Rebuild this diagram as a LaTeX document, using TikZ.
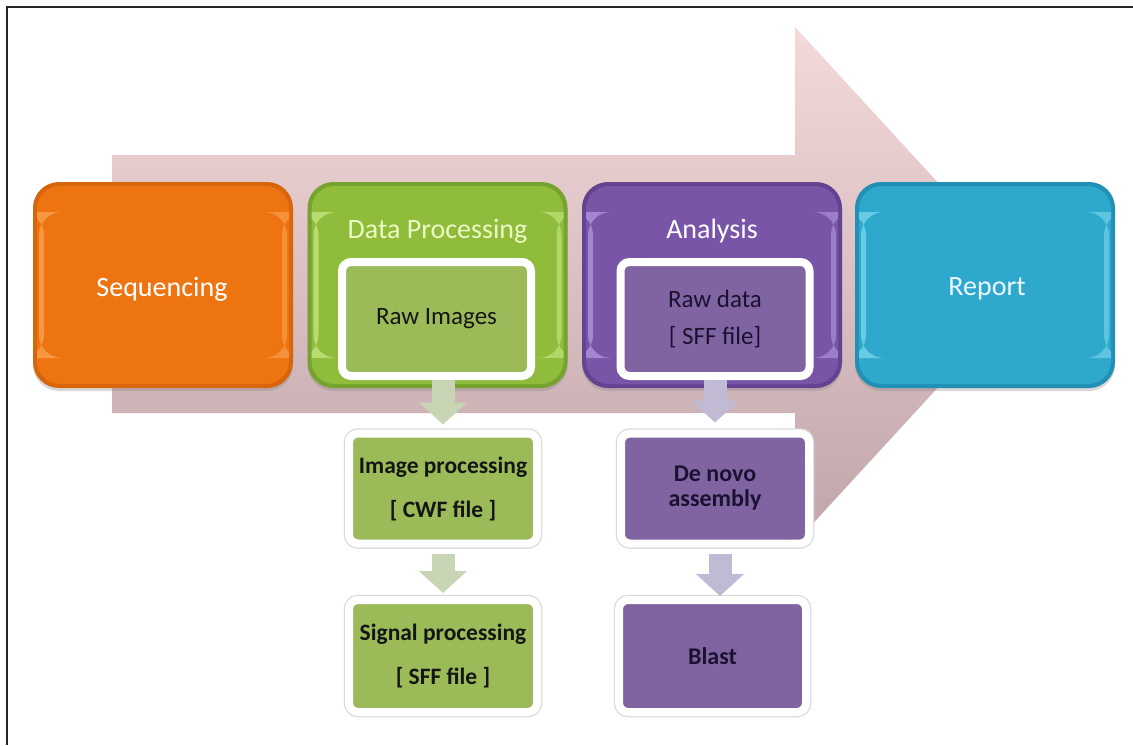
\documentclass[tikz,border=0pt]{standalone}
\usepackage{fontspec}
\setmainfont{Carlito}
\usetikzlibrary{shadows,arrows.meta}

% stage colours: face, rim, highlight
\definecolor{seqFace}{HTML}{EE7412}
\definecolor{seqRim}{HTML}{D7650C}
\definecolor{seqHi}{HTML}{FFB567}
\definecolor{dpFace}{HTML}{8FBC3B}
\definecolor{dpRim}{HTML}{76A22F}
\definecolor{dpHi}{HTML}{DDF79E}
\definecolor{anFace}{HTML}{7855A6}
\definecolor{anRim}{HTML}{644391}
\definecolor{anHi}{HTML}{CDAEF2}
\definecolor{rpFace}{HTML}{2FA8CE}
\definecolor{rpRim}{HTML}{2290B4}
\definecolor{rpHi}{HTML}{95E8FA}
% inner boxes
\definecolor{greenBox}{HTML}{9BBB59}
\definecolor{purpleBox}{HTML}{8064A2}
\definecolor{greenArrow}{HTML}{C7D5B5}
\definecolor{purpleArrow}{HTML}{C1BAD4}
\definecolor{darkText}{HTML}{151515}
\definecolor{navyText}{HTML}{1A1230}
% big background arrow
\definecolor{bandTop}{HTML}{F3D9D9}
\definecolor{bandBottom}{HTML}{C0A6AA}

\tikzset{
  stagerim/.style={rounded corners=26pt, minimum width=260pt, minimum height=206pt,
    inner sep=0pt, fill=#1,
    drop shadow={opacity=0.3, shadow xshift=0pt, shadow yshift=-3pt}},
  stageface/.style={rounded corners=23pt, minimum width=252pt, minimum height=198pt,
    inner sep=0pt, fill=#1},
  gloss/.style={path picture={
    \fill[#1, opacity=.55] ([xshift=2pt,yshift=-26pt]path picture bounding box.north west)
      rectangle ([xshift=7pt,yshift=26pt]path picture bounding box.south west);
    \fill[#1, opacity=.45] ([xshift=-7pt,yshift=-26pt]path picture bounding box.north east)
      rectangle ([xshift=-2pt,yshift=26pt]path picture bounding box.south east);
  }},
  stagetitle/.style={anchor=base, inner sep=0pt, font=\fontsize{28}{32}\selectfont, text=#1},
  innerbox/.style={draw=white, line width=8pt, fill=#1, rounded corners=9pt,
    minimum width=189pt, minimum height=114pt, inner sep=0pt, align=center},
  subbox/.style={draw=white, line width=8pt, fill=#1, rounded corners=9pt,
    minimum width=188pt, minimum height=110pt, inner sep=0pt, align=center,
    preaction={draw=black!14, line width=10.5pt},
    drop shadow={opacity=0.25, shadow xshift=1pt, shadow yshift=-3pt}},
  blockarrow/.style={draw=#1, line width=23pt,
    -{Triangle[width=47pt, length=22pt, fill=#1]}},
}

\begin{document}
\begin{tikzpicture}[x=1pt, y=-1pt]
\useasboundingbox (0,0) rectangle (1133,745);
\fill[white] (0,0) rectangle (1133,745);

% frame lines
\draw[line width=2pt, black!85] (7,745) -- (7,7) -- (1133,7);

% large process arrow behind the stages
\path[top color=bandTop, bottom color=bandBottom]
  (112,155) -- (795,155) -- (795,27) -- (1032,285) -- (795,543) -- (795,413)
  -- (112,413) -- cycle;

% stages
\node[stagerim=seqRim] (seq) at (163,285) {};
\node[stageface=seqFace, gloss=seqHi] (seqface) at (seq) {};
\node[stagetitle=white] (seqtitle) at (162,296) {Sequencing};

\node[stagerim=dpRim] (dp) at (437.5,285) {};
\node[stageface=dpFace, gloss=dpHi] (dpface) at (dp) {};
\node[stagetitle=dpHi!60!white] (dptitle) at (437.5,238) {Data Processing};

\node[stagerim=anRim] (an) at (712,285) {};
\node[stageface=anFace, gloss=anHi] (anface) at (an) {};
\node[stagetitle=white] (antitle) at (712,238) {Analysis};

\node[stagerim=rpRim] (rp) at (985,285) {};
\node[stageface=rpFace, gloss=rpHi] (rpface) at (rp) {};
\node[stagetitle=white!92!cyan] (rptitle) at (987,295) {Report};

% contents of the stages
\node[innerbox=greenBox, text=darkText, font=\fontsize{25}{30}\selectfont]
  (ri) at (436.5,319) {Raw Images};
\node[innerbox=purpleBox, text=navyText, font=\fontsize{25}{37}\selectfont]
  (rd) at (715,319) {Raw data\\{[} SFF file{]}};

% downstream steps
\node[subbox=greenBox, text=darkText, font=\bfseries\fontsize{23.5}{44}\selectfont]
  (ip) at (443,488.5) {Image processing\\{[} CWF file {]}};
\node[subbox=greenBox, text=darkText, font=\bfseries\fontsize{23.5}{44}\selectfont,
  minimum height=112pt] (sp) at (443,656) {Signal processing\\{[} SFF file {]}};
\node[subbox=purpleBox, text=navyText, font=\bfseries\fontsize{24}{25}\selectfont]
  (dn) at (715,488.5) {De novo\\assembly};
\node[subbox=purpleBox, text=navyText, font=\bfseries\fontsize{24}{29}\selectfont,
  minimum width=187pt, minimum height=112pt] (bl) at (712.5,656) {Blast};

% step arrows
\draw[blockarrow=greenArrow, shorten >=5pt] (ri.south -| ip.north) -- (ip.north);
\draw[blockarrow=greenArrow, shorten <=6pt, shorten >=3pt] (ip.south) -- (sp.north);
\draw[blockarrow=purpleArrow, shorten >=7pt] (rd.south) -- (dn.north);
\draw[blockarrow=purpleArrow, shorten <=6pt, shorten >=0pt]
  ([xshift=5pt]dn.south) -- ([xshift=5pt]dn.south |- bl.north);
\end{tikzpicture}
\end{document}
